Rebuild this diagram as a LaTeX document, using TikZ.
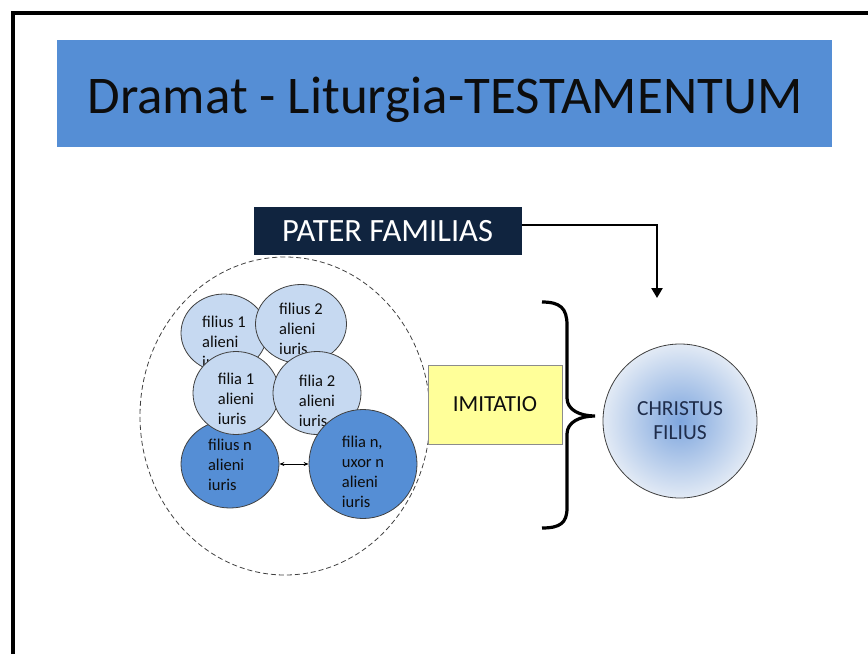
\documentclass[tikz,border=0pt]{standalone}
\usepackage{fontspec}
\setmainfont{Carlito}
\usetikzlibrary{arrows.meta,shapes.geometric}

\definecolor{titleblue}{HTML}{558ED5}
\definecolor{kidlight}{HTML}{C6D9F1}
\definecolor{navybox}{HTML}{10243F}
\definecolor{imityellow}{HTML}{FFFF99}
\definecolor{linegray}{HTML}{404040}
\definecolor{boxgray}{HTML}{8C8C8C}
\definecolor{christin}{HTML}{7EA6DE}
\definecolor{christout}{HTML}{E2EAF5}
\definecolor{christtext}{HTML}{1F2D4B}
\definecolor{darktext}{HTML}{0D0D0D}

\tikzset{
  kid/.style={ellipse,draw=linegray,line width=.8pt,inner sep=0pt},
  kidtext/.style={font=\fontsize{16.5}{20}\selectfont,align=left,text=darktext,inner sep=0pt},
}

\begin{document}
\begin{tikzpicture}[x=1pt,y=-1pt]
\useasboundingbox (0,0) rectangle (868,654);
\draw[line width=4pt] (13,654)--(13,13)--(868,13);
\fill[titleblue] (57,40) rectangle (832,147);
\node[font=\fontsize{53}{60}\selectfont,text=darktext,anchor=base] (title) at (445,113) {Dramat - Liturgia-TESTAMENTUM};
\node[fill=navybox,text=white,minimum width=268pt,minimum height=48pt,inner sep=0pt,font=\fontsize{32.5}{36}\selectfont] (pater) at (387.5,231) {PATER FAMILIAS};
\coordinate (paterend) at (657,298);
\draw[line width=2.6pt,-{Triangle[length=10pt,width=11pt]}] (pater.east) ++(0,-6) -| (paterend);
\draw[linegray,line width=.8pt,dash pattern=on 5pt off 3pt] (285,416) ellipse [x radius=145,y radius=159];
\foreach \nm/\fc/\cx/\cy/\w/\h/\dy/\txt in {
  fil1/kidlight/224/333/86/78/9/{filius 1\\alieni\\iuris},
  fil2/kidlight/301/324/91/79/5/{filius 2\\alieni\\iuris},
  filn/titleblue/230/464/98/88/1/{filius n\\alieni\\iuris},
  fila1/kidlight/236/393/86/83/6/{filia 1\\alieni\\iuris},
  fila2/kidlight/317/393/88/83/8/{filia 2\\alieni\\iuris},
  filan/titleblue/363/464/108/109/8/{filia n,\\uxor n\\alieni\\iuris}}
{\node[kid,fill=\fc,minimum width=\w pt,minimum height=\h pt] (\nm) at (\cx,\cy) {};
 \node[kidtext] at ([yshift=-\dy pt]\nm.center) {\txt};}
\draw[line width=.8pt,{Stealth[length=5pt,width=4pt]}-{Stealth[length=5pt,width=4pt]}] (filn.east)--(filan.west);
\node[draw=boxgray,fill=imityellow,minimum width=134pt,minimum height=79pt,font=\fontsize{23}{26}\selectfont,text=darktext] (imit) at (495,404.5) {IMITATIO};
\draw[line width=3.2pt] (542,302) .. controls (560,302) and (567,308) .. (567,325) -- (567,398) .. controls (567,410) and (580,416) .. (595,416) .. controls (580,416) and (567,422) .. (567,434) -- (567,508) .. controls (567,523) and (560,528) .. (542,528);
\node[circle,draw=linegray,line width=.8pt,minimum size=154pt,inner color=christin,outer color=christout,align=center,text=christtext,font=\fontsize{21.5}{24}\selectfont] (christ) at (680,421) {CHRISTUS\\FILIUS};
\end{tikzpicture}
\end{document}
